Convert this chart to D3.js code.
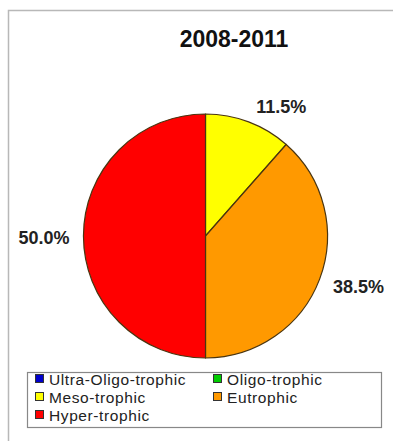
<!DOCTYPE html>
<html>
<head>
<meta charset="utf-8">
<script src="https://cdn.jsdelivr.net/npm/d3@7"></script>
<style>
  html, body { margin: 0; padding: 0; background: #fff; }
  svg { display: block; }
</style>
</head>
<body>
<svg id="chart" width="393" height="441"></svg>
<script>
const title = "2008-2011";
const categories = ["Ultra-Oligo-trophic", "Oligo-trophic", "Meso-trophic", "Eutrophic", "Hyper-trophic"];
const values = [0, 0, 11.5, 38.5, 50.0];
const colors = ["#0000CC", "#00CC00", "#FFFF00", "#FF9900", "#FF0000"];

const svg = d3.select("#chart");
const W = 393, H = 441;

// frame
svg.append("path")
  .attr("d", `M8.5,${H} L8.5,10.5 L${W},10.5`)
  .attr("fill", "none").attr("stroke", "#b8b8b8").attr("stroke-width", 1.5);

// title
svg.append("text")
  .attr("x", 234).attr("y", 47)
  .attr("text-anchor", "middle")
  .attr("font-family", "Liberation Sans, Arial, sans-serif")
  .attr("font-weight", "bold").attr("font-size", 23)
  .attr("fill", "#111")
  .text(title);

const cx = 205.5, cy = 236, r = 122;
const data = categories.map((c, i) => ({ cat: c, value: values[i], color: colors[i] }));
const pie = d3.pie().sort(null).value(d => d.value);
const arcs = pie(data);
const arc = d3.arc().innerRadius(0).outerRadius(r);

const g = svg.append("g").attr("transform", `translate(${cx},${cy})`);
g.selectAll("path.slice")
  .data(arcs.filter(a => a.data.value > 0))
  .join("path")
  .attr("class", "slice")
  .attr("d", arc)
  .attr("fill", d => d.data.color)
  .attr("stroke", "#4a3510")
  .attr("stroke-width", 1.2)
  .attr("stroke-linejoin", "round");

// labels
const labelR = r + 10;
g.selectAll("text.lbl")
  .data(arcs.filter(a => a.data.value > 0))
  .join("text")
  .attr("class", "lbl")
  .each(function(d) {
    const a = (d.startAngle + d.endAngle) / 2;
    const s = Math.sin(a), c = Math.cos(a);
    const px = labelR * s, py = -labelR * c;
    const sign = s >= 0 ? 1 : -1;
    d3.select(this)
      .attr("x", px + sign * 4)
      .attr("y", py + 8 - c * 8)
      .attr("text-anchor", s >= 0 ? "start" : "end");
  })
  .attr("font-family", "Liberation Sans, Arial, sans-serif")
  .attr("font-weight", "bold").attr("font-size", 18)
  .attr("fill", "#222")
  .text(d => d3.format(".1f")(d.data.value) + "%");

// legend
const lg = svg.append("g");
lg.append("rect")
  .attr("x", 27.5).attr("y", 372.5).attr("width", 354).attr("height", 55)
  .attr("fill", "#fff").attr("stroke", "#888").attr("stroke-width", 1.2);

const colX = [35, 213];
const rowY = [385, 403, 421];
data.forEach((d, i) => {
  const col = i < 4 ? i % 2 : 0;
  const row = Math.floor(i / 2);
  const x = colX[col], y = rowY[row];
  lg.append("rect")
    .attr("x", x + 0.5).attr("y", y - 10.5).attr("width", 8).attr("height", 8)
    .attr("fill", d.color).attr("stroke", "#333").attr("stroke-width", 1);
  lg.append("text")
    .attr("x", x + 14).attr("y", y)
    .attr("font-family", "Liberation Sans, Arial, sans-serif")
    .attr("font-size", 15.5).attr("letter-spacing", 0.6).attr("fill", "#222")
    .text(d.cat);
});
</script>
</body>
</html>
